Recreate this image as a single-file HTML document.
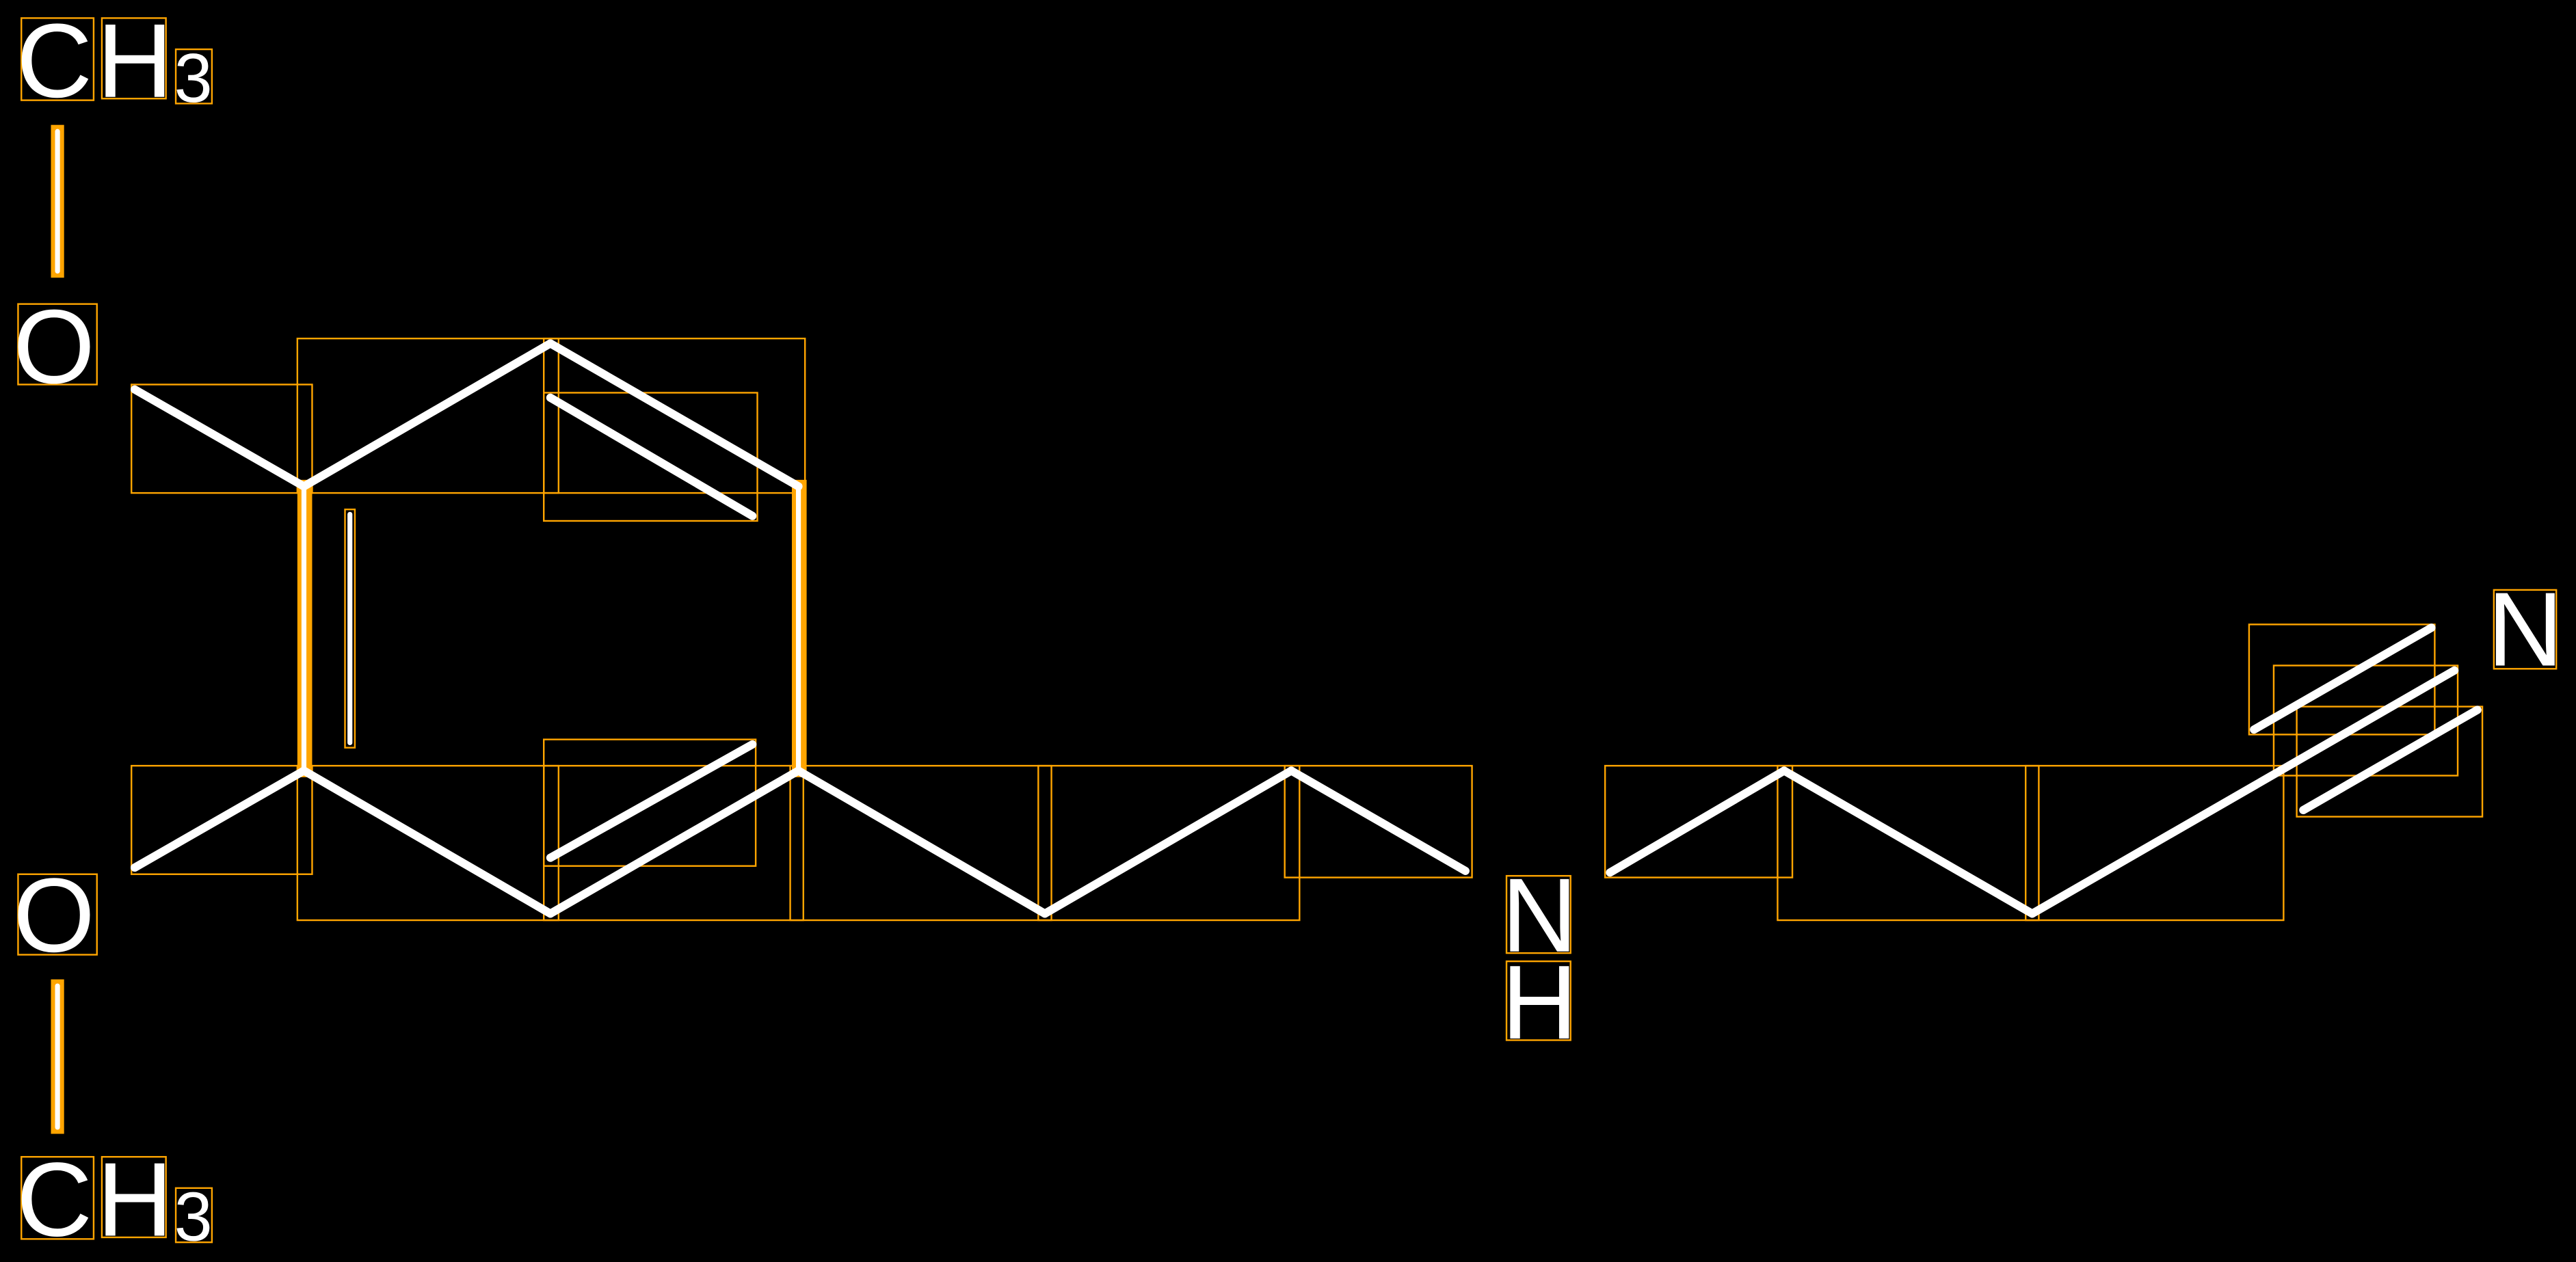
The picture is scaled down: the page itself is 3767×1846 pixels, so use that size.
<!DOCTYPE html>
<html><head><meta charset="utf-8"><style>
html,body{margin:0;padding:0;background:#000;width:3767px;height:1846px;overflow:hidden}
svg{display:block}
text{font-family:"Liberation Sans",sans-serif;fill:#fff}
</style></head><body>
<svg width="3767" height="1846" viewBox="0 0 1568 768" preserveAspectRatio="none">
<rect width="1568" height="768" fill="#000"/>
<g fill="none" stroke="#ffa500" stroke-width="1">
<rect x="80" y="234" width="110" height="66"/>
<rect x="181" y="206" width="159" height="94"/>
<rect x="331" y="206" width="159" height="94"/>
<rect x="331" y="239" width="130" height="78"/>
<rect x="80" y="466" width="110" height="66"/>
<rect x="181" y="466" width="159" height="94"/>
<rect x="331" y="450" width="129" height="77"/>
<rect x="331" y="466" width="158" height="94"/>
<rect x="481" y="466" width="159" height="94"/>
<rect x="632" y="466" width="159" height="94"/>
<rect x="782" y="466" width="114" height="68"/>
<rect x="977" y="466" width="114" height="68"/>
<rect x="1082" y="466" width="159" height="94"/>
<rect x="1233" y="466" width="157" height="94"/>
<rect x="1369" y="380" width="113" height="67"/>
<rect x="1384" y="405" width="112" height="67"/>
<rect x="1398" y="430" width="113" height="67"/>
<rect x="13" y="11" width="44" height="50"/>
<rect x="62" y="11" width="39" height="49"/>
<rect x="107" y="30" width="22" height="33"/>
<rect x="11" y="185" width="48" height="49"/>
<rect x="11" y="532" width="48" height="49"/>
<rect x="13" y="704" width="44" height="50"/>
<rect x="62" y="704" width="39" height="49"/>
<rect x="107" y="723" width="22" height="33"/>
<rect x="917" y="533" width="39" height="47"/>
<rect x="917" y="585" width="39" height="48"/>
<rect x="1518" y="359" width="38" height="48"/>
<rect x="210" y="310" width="6" height="145"/>
</g>
<g fill="#ffa500">
<rect x="31" y="76" width="8" height="93"/>
<rect x="31" y="596" width="8" height="94"/>
<rect x="181" y="292" width="9" height="181"/>
<rect x="482" y="292" width="9" height="181"/>
</g>
<g stroke="#fff" stroke-width="5" stroke-linecap="round" fill="none">
<line x1="35" y1="80" x2="35" y2="165" stroke-width="3"/>
<line x1="35" y1="600" x2="35" y2="686" stroke-width="3"/>
<line x1="185" y1="298" x2="185" y2="467" stroke-width="3"/>
<line x1="486" y1="298" x2="486" y2="467" stroke-width="3"/>
<line x1="213" y1="313" x2="213" y2="452" stroke-width="3"/>
<line x1="82" y1="237" x2="185" y2="296"/>
<line x1="185" y1="296" x2="335" y2="209"/>
<line x1="335" y1="209" x2="486" y2="296"/>
<line x1="335" y1="242" x2="458" y2="314"/>
<line x1="82" y1="528" x2="185" y2="469"/>
<line x1="185" y1="469" x2="335" y2="556"/>
<line x1="335" y1="556" x2="486" y2="469"/>
<line x1="335" y1="522" x2="458" y2="453"/>
<line x1="486" y1="469" x2="636" y2="556"/>
<line x1="636" y1="556" x2="786" y2="469"/>
<line x1="786" y1="469" x2="892" y2="530"/>
<line x1="980" y1="531" x2="1086" y2="469"/>
<line x1="1086" y1="469" x2="1237" y2="556"/>
<line x1="1237" y1="556" x2="1388" y2="469"/>
<line x1="1372" y1="444" x2="1480" y2="382"/>
<line x1="1388" y1="469" x2="1494" y2="408"/>
<line x1="1402" y1="493" x2="1508" y2="432"/>
</g>
<g font-size="64">
<text x="10" y="59">C</text><text x="59" y="59">H</text><text x="106" y="62" font-size="42">3</text>
<text x="8" y="233">O</text>
<text x="8" y="579">O</text>
<text x="10" y="752">C</text><text x="59" y="752">H</text><text x="106" y="755" font-size="42">3</text>
<text x="914" y="579">N</text>
<text x="914" y="632">H</text>
<text x="1514" y="405">N</text>
</g>
</svg>
</body></html>
